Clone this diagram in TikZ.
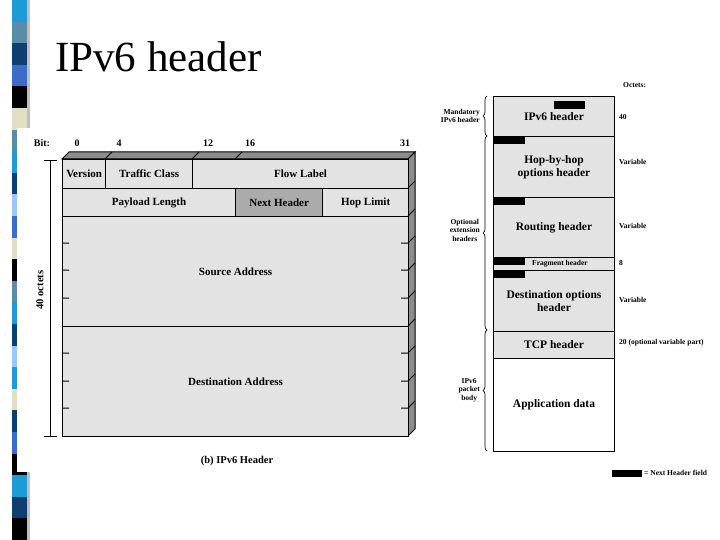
\documentclass[tikz,border=0pt]{standalone}
\usepackage{fontspec}
\setmainfont{Liberation Serif}
\usetikzlibrary{decorations.pathreplacing}
\begin{document}
\begin{tikzpicture}[x=1pt,y=-1pt,
 fld/.style={draw=black,line width=1.2pt,fill=black!11,inner sep=0pt,font=\bfseries\fontsize{11}{12}\selectfont},
 pk/.style={draw=black,line width=1pt,fill=black!11,inner sep=0pt,font=\bfseries\fontsize{11.5}{13}\selectfont,align=center},
 sm/.style={font=\bfseries\fontsize{7.5}{8.5}\selectfont,inner sep=1pt},
 bar/.style={fill=black,draw=none},
 brc/.style={decorate,decoration={brace,amplitude=4pt},line width=0.7pt}]
\useasboundingbox (0,0) rectangle (720,540);
% stripe
\foreach \c [count=\i from 0] in {1D9BD5,5A8CA8,0F3F6E,3A6CC8,000000,E0E0C0,5A8CA8,1D9BD5,0F3F6E,9CC8F0,3A6CC8,E0E0C0,000000,5A8CA8,1D9BD5,0F3F6E,9CC8F0,1D9BD5,E0E0C0,0F3F6E,3A6CC8,000000,1D9BD5,0F3F6E,000000}{
  \definecolor{sc}{HTML}{\c}
  \fill[sc] (12,{\i*21.6}) rectangle (27,{\i*21.6+21.6});}
\fill[black!25] (27,0) rectangle (30,540);
\fill[white] (17,128) rectangle (420,472);
\node[font=\fontsize{43}{45}\selectfont,anchor=west,inner sep=0pt] (title) at (55,57) {IPv6 header};
% left diagram 3D faces
\filldraw[fill=black!45,line width=1pt] (62,159)--(69,152)--(415,152)--(408,159)--cycle;
\filldraw[fill=black!45,line width=1pt] (408,159)--(415,152)--(415,429)--(408,436)--cycle;
\foreach \xx in {105,192,235} \draw[line width=1pt] (\xx,159)--(\xx+7,152);
\node[fld,minimum width=43,minimum height=29,anchor=north west] (ver) at (62,159) {Version};
\node[fld,minimum width=87,minimum height=29,anchor=north west] (tc) at (105,159) {Traffic Class};
\node[fld,minimum width=216,minimum height=29,anchor=north west] (fl) at (192,159) {Flow Label};
\node[fld,minimum width=173,minimum height=28,anchor=north west] (pl) at (62,188) {Payload Length};
\node[fld,fill=black!33,minimum width=87,minimum height=28,anchor=north west] (nh) at (235,188) {Next Header};
\node[fld,minimum width=86,minimum height=28,anchor=north west] (hl) at (322,188) {Hop Limit};
\node[fld,minimum width=346,minimum height=110,anchor=north west] (src) at (62,216) {Source Address};
\node[fld,minimum width=346,minimum height=110,anchor=north west] (dst) at (62,326) {Destination Address};
\foreach \yy in {243,270,298,353,381,408}{
  \draw[line width=1pt] (62,\yy)--(69,\yy) (401,\yy)--(408,\yy)--(415,\yy-7);}
\foreach \yy in {188,216,326} \draw[line width=1pt] (408,\yy)--(415,\yy-7);
\foreach \t/\xx in {0/77,4/119,12/208,16/250,31/405}
  \node[font=\bfseries\fontsize{10}{11}\selectfont] (b\t) at (\xx,143) {\t};
\node[font=\bfseries\fontsize{10}{11}\selectfont] (bit) at (42,143) {Bit:};
\draw[line width=0.8pt] (50,160) -- (50,436) (44,160)--(57,160) (44,436)--(57,436);
\node[rotate=90,font=\bfseries\fontsize{10.5}{11}\selectfont] (oct) at (40,290) {40 octets};
\node[font=\bfseries\fontsize{10.5}{11}\selectfont] (cap) at (237,461) {(b) IPv6 Header};
% right diagram
\node[pk,minimum width=121,minimum height=40,anchor=north west] (ip) at (493,96) {\raisebox{-4pt}{IPv6 header}};
\node[pk,minimum width=121,minimum height=61,anchor=north west] (hbh) at (493,136) {Hop-by-hop\\options header};
\node[pk,minimum width=121,minimum height=60,anchor=north west] (rt) at (493,197) {Routing header};
\node[pk,minimum width=121,minimum height=13,anchor=north west,font=\bfseries\fontsize{7.5}{8}\selectfont] (fr) at (493,257) {\hspace{12pt}Fragment header};
\node[pk,minimum width=121,minimum height=61,anchor=north west] (do) at (493,270) {Destination options\\header};
\node[pk,minimum width=121,minimum height=27,anchor=north west] (tcp) at (493,331) {TCP header};
\node[pk,fill=white,minimum width=121,minimum height=93,anchor=north west] (app) at (493,358) {Application data};
\fill[bar] (554,101) rectangle (585,109);
\foreach \yy in {136,197,257,270} \fill[bar] (493,\yy) rectangle (525,\yy+8);
\node[sm,anchor=west] (o) at (622,85) {Octets:};
\node[sm,anchor=west] (o1) at (618,117) {40};
\node[sm,anchor=west] (o2) at (618,162) {Variable};
\node[sm,anchor=west] (o3) at (618,226) {Variable};
\node[sm,anchor=west] (o4) at (618,263) {8};
\node[sm,anchor=west] (o5) at (618,300) {Variable};
\node[sm,anchor=west] (o6) at (618,343) {20 (optional variable part)};
\draw[brc] (487,136)--(487,96);
\draw[brc] (487,330)--(487,136);
\draw[brc] (487,451)--(487,330);
\node[sm,anchor=east,align=right] (m) at (481,116) {Mandatory\\IPv6 header};
\node[sm,anchor=east,align=center] (op) at (481,230) {Optional\\extension\\headers};
\node[sm,anchor=east,align=center] (bd) at (481,390) {IPv6\\packet\\body};
\fill[bar] (612,470) rectangle (642,477);
\node[sm,anchor=west] (leg) at (643,473) {= Next Header field};
\end{tikzpicture}
\end{document}
